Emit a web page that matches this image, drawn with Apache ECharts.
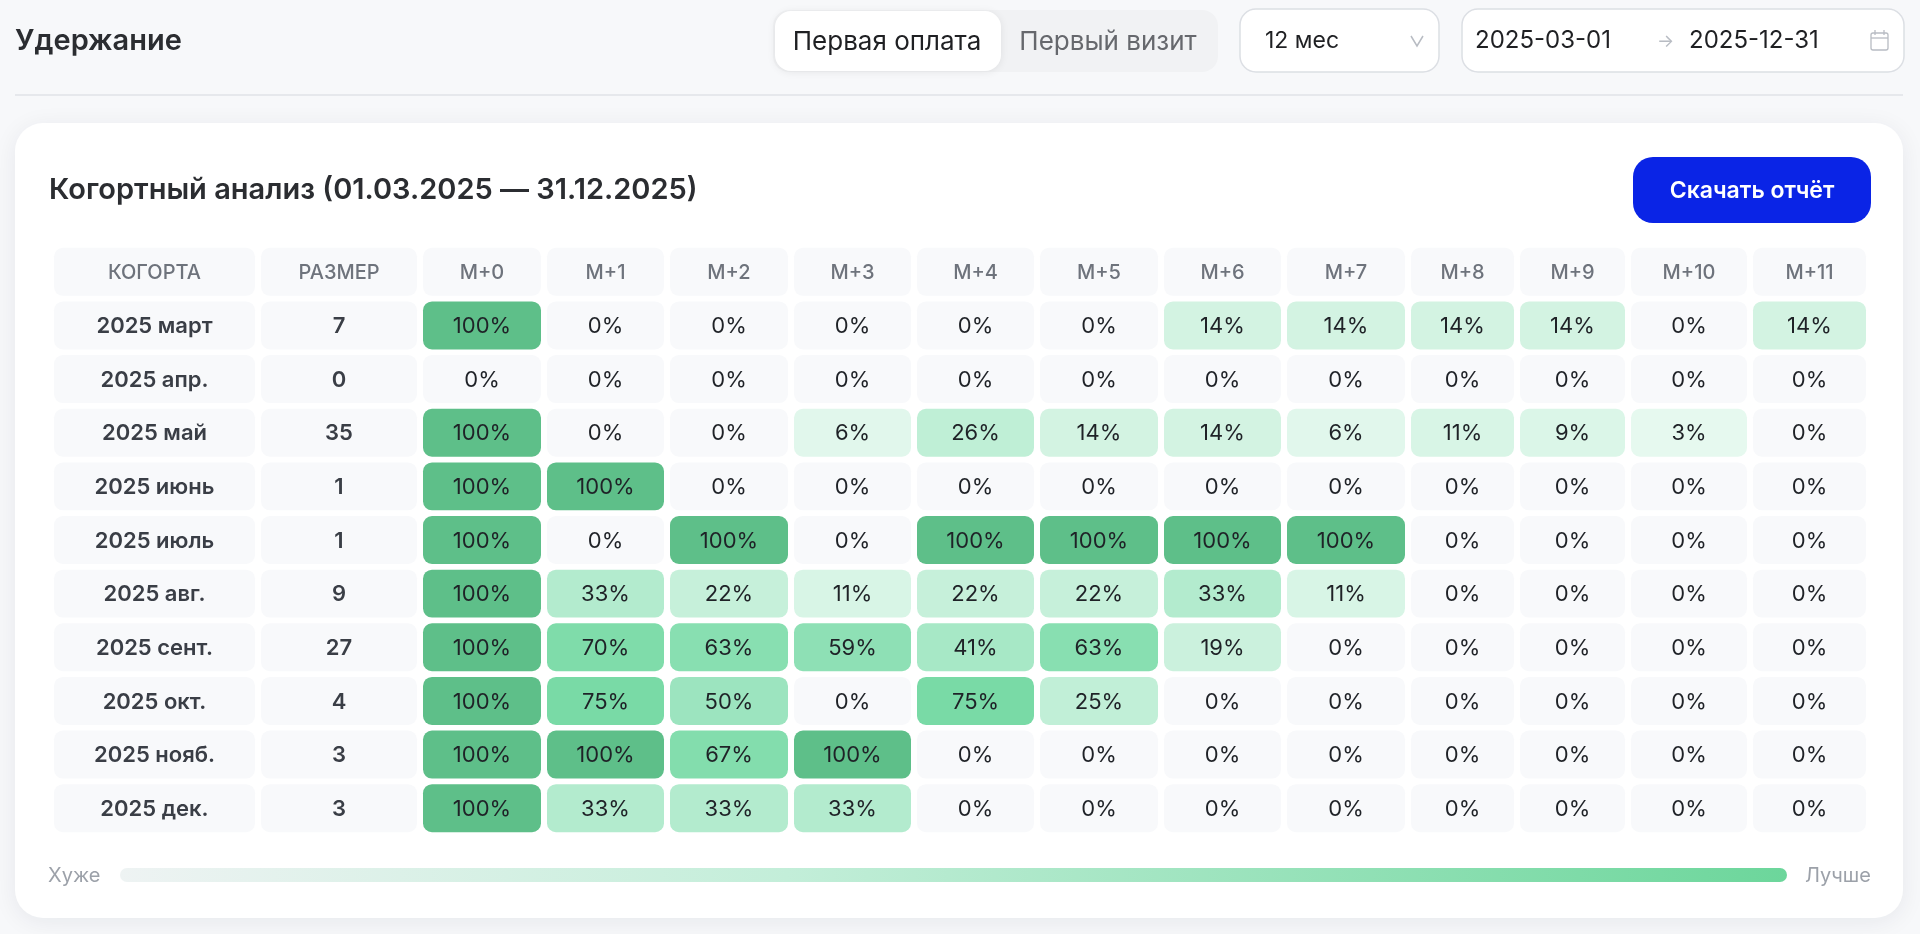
<!DOCTYPE html>
<html>
<head>
<meta charset="utf-8">
<title>Удержание</title>
<script src="https://cdn.jsdelivr.net/npm/echarts@6/dist/echarts.min.js"></script>
<style>
  html, body { margin: 0; padding: 0; background: #f7f8fa; }
  #main { width: 1920px; height: 934px; }
</style>
</head>
<body>
<div id="main"></div>
<script>
var FONT = 'Inter, "Noto Sans", sans-serif';

// данные
var colHeaders = ['КОГОРТА', 'РАЗМЕР', 'М+0', 'М+1', 'М+2', 'М+3', 'М+4', 'М+5', 'М+6', 'М+7', 'М+8', 'М+9', 'М+10', 'М+11'];
var cohorts = ['2025 март', '2025 апр.', '2025 май', '2025 июнь', '2025 июль', '2025 авг.', '2025 сент.', '2025 окт.', '2025 нояб.', '2025 дек.'];
var sizes = [7, 0, 35, 1, 1, 9, 27, 4, 3, 3];
var retMar = [100, 0, 0, 0, 0, 0, 14, 14, 14, 14, 0, 14];
var retApr = [0, 0, 0, 0, 0, 0, 0, 0, 0, 0, 0, 0];
var retMay = [100, 0, 0, 6, 26, 14, 14, 6, 11, 9, 3, 0];
var retJun = [100, 100, 0, 0, 0, 0, 0, 0, 0, 0, 0, 0];
var retJul = [100, 0, 100, 0, 100, 100, 100, 100, 0, 0, 0, 0];
var retAug = [100, 33, 22, 11, 22, 22, 33, 11, 0, 0, 0, 0];
var retSep = [100, 70, 63, 59, 41, 63, 19, 0, 0, 0, 0, 0];
var retOct = [100, 75, 50, 0, 75, 25, 0, 0, 0, 0, 0, 0];
var retNov = [100, 100, 67, 100, 0, 0, 0, 0, 0, 0, 0, 0];
var retDec = [100, 33, 33, 33, 0, 0, 0, 0, 0, 0, 0, 0];
var retention = [retMar, retApr, retMay, retJun, retJul, retAug, retSep, retOct, retNov, retDec];

// ширины колонок таблицы (в пикселях сетки)
var colWidths = [207, 162, 124, 123, 124, 123, 123, 124, 123, 124, 109, 111, 122, 119];
var colStart = [];
var acc = 0;
for (var i = 0; i < colWidths.length; i++) { colStart.push(acc); acc += colWidths[i]; }
var colSum = acc;
var gapX = 6, gapY = 5.7;
var cellBg = '#f8f9fb';

var headerData = colHeaders.map(function(h, i) { return [i, 0, h]; });
var labelData = [];
cohorts.forEach(function(c, r) {
  labelData.push([0, r + 1, c]);
  labelData.push([1, r + 1, String(sizes[r])]);
});
var retData = [];
retention.forEach(function(row, r) {
  row.forEach(function(v, m) { retData.push([m + 2, r + 1, v]); });
});

function cellRect(api, ci, ri) {
  var p = api.coord([colStart[ci], ri]);
  var s = api.size([colWidths[ci], 1]);
  return { x: p[0], y: p[1] - s[1] / 2 + gapY / 2, width: s[0] - gapX, height: s[1] - gapY };
}

function cell(rect, fill, text, textStyle) {
  return {
    type: 'group',
    children: [{
      type: 'rect',
      shape: { x: rect.x, y: rect.y, width: rect.width, height: rect.height, r: 9 },
      style: { fill: fill }
    }, {
      type: 'text',
      style: Object.assign({
        x: rect.x + rect.width / 2,
        y: rect.y + rect.height / 2 + 1,
        text: text,
        align: 'center',
        verticalAlign: 'middle',
        fontFamily: FONT
      }, textStyle)
    }]
  };
}

var chart = echarts.init(document.getElementById('main'));

var option = {
  backgroundColor: '#f7f8fa',
  animation: false,
  grid: { left: 54, right: 48, top: 245, bottom: 99 },
  xAxis: { type: 'value', min: 0, max: colSum, show: false },
  yAxis: { type: 'category', data: ['header'].concat(cohorts), inverse: true, show: false },
  visualMap: {
    show: false,
    seriesIndex: 2,
    dimension: 2,
    min: 0,
    max: 100,
    inRange: {
      color: ['#ecfaf3', '#d5f4e4', '#c1efd7', '#abe9c9', '#9ce4bf', '#89dfb1', '#79daa6', '#6bcc97', '#5ebf89']
    }
  },
  graphic: [
    // шапка страницы
    { type: 'text', style: { x: 15, y: 41, text: 'Удержание', verticalAlign: 'middle', font: '600 29px ' + FONT, fill: '#2b2d31' } },
    { type: 'rect', shape: { x: 773, y: 10, width: 445, height: 62, r: 16 }, style: { fill: '#f1f2f4' } },
    { type: 'rect', shape: { x: 775, y: 11, width: 226, height: 60, r: 16 },
      style: { fill: '#ffffff', shadowBlur: 8, shadowColor: 'rgba(0,0,0,0.08)', shadowOffsetY: 1 } },
    { type: 'text', style: { x: 887, y: 42, text: 'Первая оплата', align: 'center', verticalAlign: 'middle', font: '400 26px ' + FONT, fill: '#1f2023' } },
    { type: 'text', style: { x: 1108, y: 42, text: 'Первый визит', align: 'center', verticalAlign: 'middle', font: '400 26px ' + FONT, fill: '#66686d' } },
    { type: 'rect', shape: { x: 1240, y: 9, width: 199, height: 63, r: 16 }, style: { fill: '#ffffff', stroke: '#dcdfe4', lineWidth: 1.5 } },
    { type: 'text', style: { x: 1265, y: 41, text: '12 мес', verticalAlign: 'middle', font: '400 23px ' + FONT, fill: '#1f2023' } },
    { type: 'polyline', shape: { points: [[1411, 36], [1417, 46], [1423, 36]] }, style: { stroke: '#b8bcc3', lineWidth: 1.5, fill: null } },
    { type: 'rect', shape: { x: 1462, y: 9, width: 442, height: 63, r: 16 }, style: { fill: '#ffffff', stroke: '#dcdfe4', lineWidth: 1.5 } },
    { type: 'text', style: { x: 1475, y: 41, text: '2025-03-01', verticalAlign: 'middle', font: '400 24px ' + FONT, fill: '#1f2023' } },
    { type: 'text', style: { x: 1657, y: 42, text: '→', verticalAlign: 'middle', font: '400 18px ' + FONT, fill: '#b8bcc3' } },
    { type: 'text', style: { x: 1689, y: 41, text: '2025-12-31', verticalAlign: 'middle', font: '400 24px ' + FONT, fill: '#1f2023' } },
    { type: 'rect', shape: { x: 1871, y: 33, width: 17, height: 17, r: 2 }, style: { fill: null, stroke: '#b8bcc3', lineWidth: 1.3 } },
    { type: 'line', shape: { x1: 1871, y1: 38, x2: 1888, y2: 38 }, style: { stroke: '#b8bcc3', lineWidth: 1.3 } },
    { type: 'line', shape: { x1: 1875, y1: 30, x2: 1875, y2: 35 }, style: { stroke: '#b8bcc3', lineWidth: 1.3 } },
    { type: 'line', shape: { x1: 1884, y1: 30, x2: 1884, y2: 35 }, style: { stroke: '#b8bcc3', lineWidth: 1.3 } },
    { type: 'line', shape: { x1: 15, y1: 95, x2: 1903, y2: 95 }, style: { stroke: '#e6e8ec', lineWidth: 2 } },
    // карточка
    { type: 'rect', z: -10, shape: { x: 15, y: 123, width: 1888, height: 795, r: 28 },
      style: { fill: '#ffffff', shadowBlur: 24, shadowColor: 'rgba(20,30,50,0.07)', shadowOffsetY: 4 } },
    { type: 'text', style: { x: 49, y: 190, text: 'Когортный анализ (01.03.2025 — 31.12.2025)', verticalAlign: 'middle', font: '600 29px ' + FONT, fill: '#2b2d31' } },
    { type: 'rect', shape: { x: 1633, y: 157, width: 238, height: 66, r: 20 }, style: { fill: '#0a24e6' } },
    { type: 'text', style: { x: 1752, y: 191, text: 'Скачать отчёт', align: 'center', verticalAlign: 'middle', font: '600 23px ' + FONT, fill: '#ffffff' } },
    // легенда
    { type: 'text', style: { x: 48, y: 876, text: 'Хуже', verticalAlign: 'middle', font: '400 20px ' + FONT, fill: '#9ca1a9' } },
    { type: 'rect', shape: { x: 120, y: 868, width: 1667, height: 14, r: 7 },
      style: { fill: new echarts.graphic.LinearGradient(0, 0, 1, 0, [
        { offset: 0, color: '#eef3f3' },
        { offset: 0.4, color: '#c3eed9' },
        { offset: 1, color: '#6cd69b' }
      ]) } },
    { type: 'text', style: { x: 1805, y: 876, text: 'Лучше', verticalAlign: 'middle', font: '400 20px ' + FONT, fill: '#9ca1a9' } }
  ],
  series: [{
    name: 'header',
    type: 'custom',
    encode: { x: 0, y: 1 },
    data: headerData,
    renderItem: function(params, api) {
      var ci = api.value(0), ri = api.value(1);
      return cell(cellRect(api, ci, ri), cellBg, colHeaders[ci],
        { fontSize: 20, fontWeight: 500, fill: '#6e737c' });
    }
  }, {
    name: 'labels',
    type: 'custom',
    encode: { x: 0, y: 1 },
    data: labelData,
    renderItem: function(params, api) {
      var d = labelData[params.dataIndex];
      return cell(cellRect(api, d[0], d[1]), cellBg, d[2],
        { fontSize: 22, fontWeight: 600, fill: '#3a3e46' });
    }
  }, {
    name: 'retention',
    type: 'custom',
    encode: { x: 0, y: 1 },
    data: retData,
    renderItem: function(params, api) {
      var ci = api.value(0), ri = api.value(1), v = api.value(2);
      var fill = v > 0 ? api.visual('color') : cellBg;
      return cell(cellRect(api, ci, ri), fill, v + '%',
        { fontSize: 22, fontWeight: 400, fill: '#1f2227' });
    }
  }]
};

chart.setOption(option);
</script>
</body>
</html>
